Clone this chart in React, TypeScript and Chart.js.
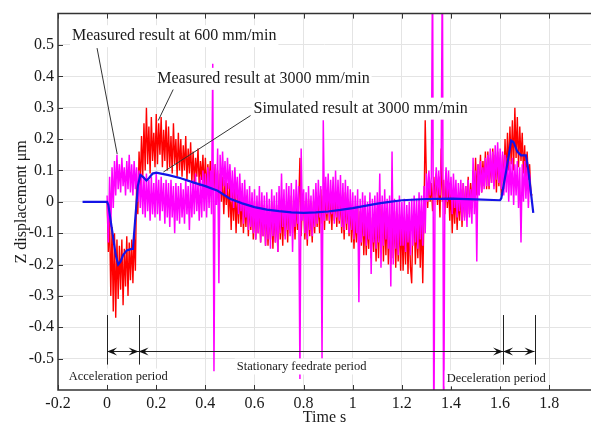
import React, { useEffect, useRef } from "react";
import { Chart, registerables } from "chart.js";

Chart.register(...registerables);

const SERIF = '"Liberation Serif", "Times New Roman", "DejaVu Serif", serif';

// sampling step (s) of the measured signals, starting at t = 0
const DT = 0.005;

const X_TICKS = [-0.2, 0, 0.2, 0.4, 0.6, 0.8, 1, 1.2, 1.4, 1.6, 1.8];
const Y_TICKS = [-0.5, -0.4, -0.3, -0.2, -0.1, 0, 0.1, 0.2, 0.3, 0.4, 0.5];

// Measured result at 600 mm/min (µm), every DT seconds from t = 0
const MEASURED_600 = [
  0.02, -0.13, 0.08, -0.08, 0.11, -0.02, 0.13, 0.02, 0.15, 0.04,
  0.12, 0.03, 0.14, 0.05, 0.11, 0.02, 0.13, 0.04, 0.15, 0.03,
  0.12, 0.02, 0.13, 0.04, 0.11, 0.0, 0.1, -0.02, 0.09, -0.04,
  0.08, -0.05, 0.09, -0.03, 0.07, -0.06, 0.08, -0.04, 0.06, -0.05,
  0.09, -0.04, 0.07, -0.06, 0.08, -0.03, 0.06, -0.07, 0.07, -0.05,
  0.06, -0.08, 0.07, -0.05, 0.05, -0.1, 0.06, -0.06, 0.05, -0.07,
  0.06, -0.05, 0.04, -0.07, 0.07, -0.04, 0.05, -0.09, 0.06, -0.05,
  0.07, -0.04, 0.09, -0.03, 0.06, -0.06, 0.08, -0.05, 0.1, -0.03,
  0.09, -0.05, 0.11, -0.02, 0.1, -0.04, 0.44, -0.54, 0.12, -0.01,
  0.17, -0.26, 0.15, 0.03, 0.16, 0.05, 0.13, 0.02, 0.14, 0.04,
  0.12, 0.0, 0.1, -0.02, 0.11, 0.01, 0.08, -0.04, 0.09, -0.03,
  0.06, -0.07, 0.07, -0.05, 0.04, -0.09, 0.05, -0.08, 0.03, -0.1,
  0.04, -0.12, 0.02, -0.1, 0.05, -0.13, 0.03, -0.11, 0.02, -0.14,
  0.03, -0.12, 0.01, -0.15, 0.04, -0.11, 0.02, -0.13, 0.03, -0.16,
  0.05, -0.1, 0.09, -0.08, 0.04, -0.12, 0.06, -0.09, 0.05, -0.11,
  0.06, -0.16, 0.04, -0.08, 0.07, -0.07, 0.05, -0.565, 0.17, -0.06,
  0.04, -0.1, 0.03, -0.12, 0.05, -0.09, 0.02, -0.11, 0.04, -0.08,
  0.06, -0.07, 0.07, -0.05, 0.05, -0.5, 0.26, -0.06, 0.08, -0.04,
  0.09, -0.06, 0.07, -0.04, 0.08, -0.07, 0.1, -0.05, 0.07, -0.06,
  0.085, -0.08, 0.06, -0.09, 0.07, -0.07, 0.05, -0.1, 0.04, -0.09,
  0.03, -0.12, 0.02, -0.1, 0.04, -0.32, 0.01, -0.13, 0.03, -0.11,
  0.02, -0.14, 0.0, -0.12, 0.03, -0.23, 0.01, -0.13, 0.02, -0.15,
  0.03, -0.13, 0.09, -0.21, 0.02, -0.14, 0.04, -0.12, 0.01, -0.15,
  0.02, -0.27, 0.16, -0.2, 0.01, -0.15, 0.0, -0.17, 0.02, -0.14,
  0.0, -0.14, 0.01, -0.16, -0.01, -0.13, 0.0, -0.17, 0.01, -0.14,
  0.02, -0.13, 0.01, -0.15, 0.03, -0.12, 0.02, -0.14, 0.05, -0.1,
  0.09, 0.0, 0.1, 0.02, 0.08, 0.8, -0.8, 0.03, 0.11, 0.01,
  0.1, 0.02, 0.12, 0.8, -0.8, 0.03, 0.11, 0.0, 0.1, 0.01,
  0.08, -0.04, 0.09, -0.02, 0.07, -0.05, 0.06, -0.03, 0.07, -0.06,
  0.06, -0.06, 0.05, -0.08, 0.07, -0.05, 0.04, -0.07, 0.14, -0.04,
  0.1, -0.19, 0.12, 0.02, 0.13, 0.03, 0.11, 0.04, 0.14, 0.05,
  0.15, 0.05, 0.17, 0.06, 0.16, 0.04, 0.18, 0.07, 0.19, 0.06,
  0.17, 0.04, 0.16, 0.02, 0.15, 0.03, 0.14, 0.0, 0.13, 0.02,
  0.14, -0.01, 0.12, 0.02, 0.13, -0.02, 0.11, -0.13, 0.12, 0.0,
  0.13, 0.01, 0.11, -0.02, 0.09, 0.02,
];

// Measured result at 3000 mm/min (µm), every DT seconds from t = 0
const MEASURED_3000 = [
  0.0, -0.16, -0.05, -0.3, -0.08, -0.35, -0.1, -0.37, -0.12, -0.31,
  -0.14, -0.28, -0.12, -0.33, -0.15, -0.27, -0.11, -0.3, -0.13, -0.25,
  -0.12, -0.26, -0.1, -0.22, 0.06, -0.04, 0.16, 0.05, 0.21, 0.08,
  0.25, 0.1, 0.3, 0.12, 0.24, 0.09, 0.27, 0.13, 0.22, 0.11,
  0.28, 0.12, 0.25, 0.15, 0.27, 0.11, 0.23, 0.13, 0.26, 0.1,
  0.24, 0.11, 0.21, 0.09, 0.25, 0.12, 0.2, 0.08, 0.22, 0.1,
  0.2, 0.08, 0.18, 0.1, 0.21, 0.07, 0.17, 0.09, 0.19, 0.06,
  0.16, 0.06, 0.14, 0.08, 0.17, 0.05, 0.13, 0.07, 0.15, 0.04,
  0.14, 0.03, 0.12, 0.05, 0.13, 0.02, 0.11, 0.04, 0.12, 0.01,
  0.1, -0.02, 0.09, 0.0, 0.08, -0.04, 0.07, -0.01, 0.06, -0.05,
  0.06, -0.09, 0.04, -0.06, 0.05, -0.1, 0.03, -0.07, 0.04, -0.08,
  0.03, -0.1, 0.01, -0.08, 0.02, -0.11, 0.0, -0.09, 0.01, -0.12,
  0.0, -0.12, -0.01, -0.1, 0.0, -0.13, -0.02, -0.11, -0.01, -0.14,
  -0.01, -0.14, -0.03, -0.12, 0.0, -0.15, -0.02, -0.13, -0.01, -0.16,
  0.0, -0.12, -0.02, -0.14, 0.01, -0.11, -0.01, -0.13, 0.0, -0.1,
  0.02, -0.1, 0.0, -0.12, 0.01, -0.09, -0.01, 0.14, -0.11, 0.0,
  0.0, -0.12, -0.02, -0.14, 0.01, -0.11, -0.01, -0.13, 0.0, -0.1,
  0.03, -0.08, 0.01, -0.1, 0.04, -0.07, 0.02, -0.09, 0.03, -0.06,
  0.04, -0.07, 0.02, -0.09, 0.05, -0.06, 0.03, -0.08, 0.04, -0.07,
  0.02, -0.1, 0.0, -0.12, 0.03, -0.09, 0.01, -0.11, 0.0, -0.13,
  -0.02, -0.15, -0.04, -0.13, -0.01, -0.16, -0.03, -0.14, -0.02, -0.17,
  -0.04, -0.17, -0.06, -0.15, -0.03, -0.18, -0.05, -0.16, -0.04, -0.19,
  -0.02, -0.18, -0.04, -0.16, -0.01, -0.19, -0.03, -0.17, -0.02, -0.2,
  -0.04, -0.2, -0.06, -0.18, -0.03, -0.21, -0.05, -0.19, -0.04, -0.22,
  -0.05, -0.22, -0.07, -0.2, -0.04, -0.23, -0.06, -0.21, -0.26, -0.05,
  -0.04, -0.2, -0.06, -0.18, -0.03, -0.21, -0.05, -0.26, -0.04, 0.26,
  0.07, -0.02, 0.08, 0.0, 0.06, -0.03, 0.08, 0.01, 0.09, -0.01,
  0.08, -0.05, 0.17, 0.0, 0.07, -0.04, 0.08, -0.02, 0.06, -0.06,
  0.05, -0.1, 0.03, -0.07, 0.04, -0.09, 0.02, -0.06, 0.04, -0.08,
  0.06, -0.05, 0.05, -0.03, 0.08, -0.04, 0.06, -0.02, 0.1, 0.0,
  0.14, 0.02, 0.12, 0.04, 0.15, 0.03, 0.13, 0.05, 0.16, 0.04,
  0.16, 0.04, 0.14, 0.06, 0.17, 0.05, 0.15, 0.03, 0.16, 0.05,
  0.14, 0.02, 0.15, 0.04, 0.2, 0.08, 0.22, 0.1, 0.24, 0.12,
  0.26, 0.1, 0.3, 0.14, 0.27, 0.11, 0.24, 0.13, 0.22, 0.09,
  0.18, 0.05, 0.16, 0.07, 0.12, 0.03, 0.02,
];

// Simulated result at 3000 mm/min
const SIM_T = [
  -0.1, 0, 0.005, 0.02, 0.035, 0.045, 0.055, 0.065, 0.08, 0.1, 0.105, 0.115,
  0.125, 0.135, 0.145, 0.16, 0.17, 0.185, 0.2, 0.25, 0.3, 0.35, 0.4, 0.45, 0.5,
  0.55, 0.6, 0.65, 0.7, 0.75, 0.8, 0.85, 0.9, 0.95, 1.0, 1.05, 1.1, 1.15, 1.2,
  1.3, 1.4, 1.5, 1.6, 1.605, 1.625, 1.645, 1.655, 1.67, 1.685, 1.705, 1.715, 1.735,
];
const SIM_Z = [
  0, 0, -0.01, -0.09, -0.17, -0.2, -0.19, -0.17, -0.155, -0.15, -0.15, -0.05,
  0.05, 0.085, 0.08, 0.068, 0.075, 0.09, 0.093, 0.085, 0.075, 0.062, 0.05, 0.035, 0.01,
  -0.005, -0.017, -0.025, -0.03, -0.034, -0.035, -0.034, -0.031, -0.026, -0.02, -0.013, -0.006, 0, 0.005,
  0.009, 0.01, 0.008, 0.005, 0.012, 0.1, 0.195, 0.19, 0.16, 0.148, 0.148, 0.1, -0.035,
];

// Callout texts (left edge / middle, in data units) and their leader lines
const CALLOUTS = [
  { text: "Measured result at 600 mm/min", t: -0.143, v: 0.528, from: [-0.041, 0.49], to: [0.041, 0.152] },
  { text: "Measured result at 3000 mm/min", t: 0.204, v: 0.392, from: [0.269, 0.358], to: [0.208, 0.259] },
  { text: "Simulated result at 3000 mm/min", t: 0.596, v: 0.297, from: [0.584, 0.275], to: [0.229, 0.095] },
];

// Period boundaries (s) and labels
const PERIOD_BOUNDS = [0, 0.128, 1.612, 1.74];
const PERIOD_LABELS = [
  { text: "Acceleration period", t: 0.045, v: -0.557 },
  { text: "Stationary feedrate period", t: 0.792, v: -0.525 },
  { text: "Deceleration period", t: 1.584, v: -0.563 },
];
const PERIOD_MARK_TOP = -0.361;
const PERIOD_MARK_BOTTOM = -0.519;
const PERIOD_ARROW_V = -0.475;

const fmt = (v: number) => String(Math.round(v * 10) / 10);

const decorations = {
  id: "decorations",
  afterDatasetsDraw(chart: any) {
    const { ctx, chartArea: a, scales } = chart;
    const px = (t: number) => scales.x.getPixelForValue(t);
    const py = (v: number) => scales.y.getPixelForValue(v);
    ctx.save();

    // frame (left, bottom, top)
    ctx.strokeStyle = "#333";
    ctx.lineWidth = 1.5;
    ctx.beginPath();
    ctx.moveTo(a.right, a.top);
    ctx.lineTo(a.left, a.top);
    ctx.lineTo(a.left, a.bottom);
    ctx.lineTo(a.right, a.bottom);
    ctx.stroke();

    // inward tick marks
    ctx.lineWidth = 1;
    ctx.beginPath();
    X_TICKS.forEach((t) => {
      const x = Math.round(px(t)) + 0.5;
      ctx.moveTo(x, a.bottom);
      ctx.lineTo(x, a.bottom - 5);
      ctx.moveTo(x, a.top);
      ctx.lineTo(x, a.top + 5);
    });
    Y_TICKS.forEach((v) => {
      const y = Math.round(py(v)) + 0.5;
      ctx.moveTo(a.left, y);
      ctx.lineTo(a.left + 5, y);
    });
    ctx.stroke();

    // callouts
    ctx.font = `16px ${SERIF}`;
    ctx.textBaseline = "middle";
    ctx.textAlign = "left";
    CALLOUTS.forEach((c) => {
      const x = px(c.t);
      const y = py(c.v);
      const w = ctx.measureText(c.text).width;
      ctx.fillStyle = "#fff";
      ctx.fillRect(x - 2, y - 11, w + 4, 22);
      ctx.fillStyle = "#1a1a1a";
      ctx.fillText(c.text, x, y);
      ctx.strokeStyle = "#333";
      ctx.lineWidth = 1;
      ctx.beginPath();
      ctx.moveTo(px(c.from[0]), py(c.from[1]));
      ctx.lineTo(px(c.to[0]), py(c.to[1]));
      ctx.stroke();
    });

    // period marks
    ctx.strokeStyle = "#222";
    ctx.fillStyle = "#111";
    ctx.lineWidth = 1;
    ctx.beginPath();
    PERIOD_BOUNDS.forEach((t) => {
      const x = Math.round(px(t)) + 0.5;
      ctx.moveTo(x, py(PERIOD_MARK_TOP));
      ctx.lineTo(x, py(PERIOD_MARK_BOTTOM));
    });
    const ay = Math.round(py(PERIOD_ARROW_V)) + 0.5;
    ctx.moveTo(px(PERIOD_BOUNDS[0]), ay);
    ctx.lineTo(px(PERIOD_BOUNDS[PERIOD_BOUNDS.length - 1]), ay);
    ctx.stroke();
    const head = (x: number, dir: number) => {
      ctx.beginPath();
      ctx.moveTo(x, ay);
      ctx.lineTo(x - dir * 10, ay - 4);
      ctx.lineTo(x - dir * 6, ay);
      ctx.lineTo(x - dir * 10, ay + 4);
      ctx.closePath();
      ctx.fill();
    };
    for (let i = 0; i < PERIOD_BOUNDS.length - 1; i++) {
      head(px(PERIOD_BOUNDS[i]), -1);
      head(px(PERIOD_BOUNDS[i + 1]), 1);
    }

    ctx.font = `12.5px ${SERIF}`;
    ctx.textAlign = "center";
    PERIOD_LABELS.forEach((p) => {
      const x = px(p.t);
      const y = py(p.v);
      const w = ctx.measureText(p.text).width;
      ctx.fillStyle = "#fff";
      ctx.fillRect(x - w / 2 - 2, y - 8, w + 4, 16);
      ctx.fillStyle = "#1a1a1a";
      ctx.fillText(p.text, x, y);
    });

    ctx.restore();
  },
};

export default function App() {
  const ref = useRef<HTMLCanvasElement | null>(null);

  useEffect(() => {
    const canvas = ref.current;
    if (!canvas) return;
    const chart = new Chart(canvas, {
      type: "line",
      data: {
        datasets: [
          {
            label: "Simulated result at 3000 mm/min",
            data: SIM_T.map((t, i) => ({ x: t, y: SIM_Z[i] })),
            borderColor: "#1414e6",
            borderWidth: 2.2,
            pointRadius: 0,
            tension: 0,
          },
          {
            label: "Measured result at 600 mm/min",
            data: MEASURED_600.map((v, i) => ({ x: i * DT, y: v })),
            borderColor: "#ff00ff",
            borderWidth: 1.5,
            pointRadius: 0,
            tension: 0,
          },
          {
            label: "Measured result at 3000 mm/min",
            data: MEASURED_3000.map((v, i) => ({ x: i * DT, y: v })),
            borderColor: "#ff0000",
            borderWidth: 1.4,
            pointRadius: 0,
            tension: 0,
          },
        ],
      },
      options: {
        responsive: false,
        animation: false,
        events: [],
        layout: { padding: { top: 10, left: 0, right: 0, bottom: 0 } },
        plugins: { legend: { display: false }, tooltip: { enabled: false } },
        scales: {
          x: {
            type: "linear",
            min: -0.2,
            max: 1.97,
            afterBuildTicks: (s: any) => {
              s.ticks = X_TICKS.map((v) => ({ value: v }));
            },
            afterFit: (s: any) => {
              s.height = 36;
            },
            grid: { color: "#e4e4e4", drawTicks: false },
            border: { display: false },
            ticks: {
              padding: 4,
              color: "#1a1a1a",
              font: { family: SERIF, size: 16 },
              maxRotation: 0,
              autoSkip: false,
              callback: (v: any) => fmt(Number(v)),
            },
            title: {
              display: true,
              text: "Time s",
              color: "#1a1a1a",
              font: { family: SERIF, size: 16, lineHeight: 1 },
              padding: 0,
            },
          },
          y: {
            type: "linear",
            min: -0.6,
            max: 0.6,
            afterBuildTicks: (s: any) => {
              s.ticks = Y_TICKS.map((v) => ({ value: v }));
            },
            afterFit: (s: any) => {
              s.width = 58;
            },
            grid: { color: "#e4e4e4", drawTicks: false },
            border: { display: false },
            ticks: {
              padding: 4,
              color: "#1a1a1a",
              font: { family: SERIF, size: 16 },
              autoSkip: false,
              callback: (v: any) => fmt(Number(v)),
            },
            title: {
              display: true,
              text: "Z displacement μm",
              color: "#1a1a1a",
              font: { family: SERIF, size: 16 },
              padding: { top: 12, bottom: 0 },
            },
          },
        },
      },
      plugins: [decorations],
    } as any);
    return () => chart.destroy();
  }, []);

  return (
    <div style={{ position: "absolute", left: 0, top: 0, width: 591, height: 426, background: "#fff" }}>
      <canvas ref={ref} width={591} height={426} style={{ display: "block" }} />
    </div>
  );
}
